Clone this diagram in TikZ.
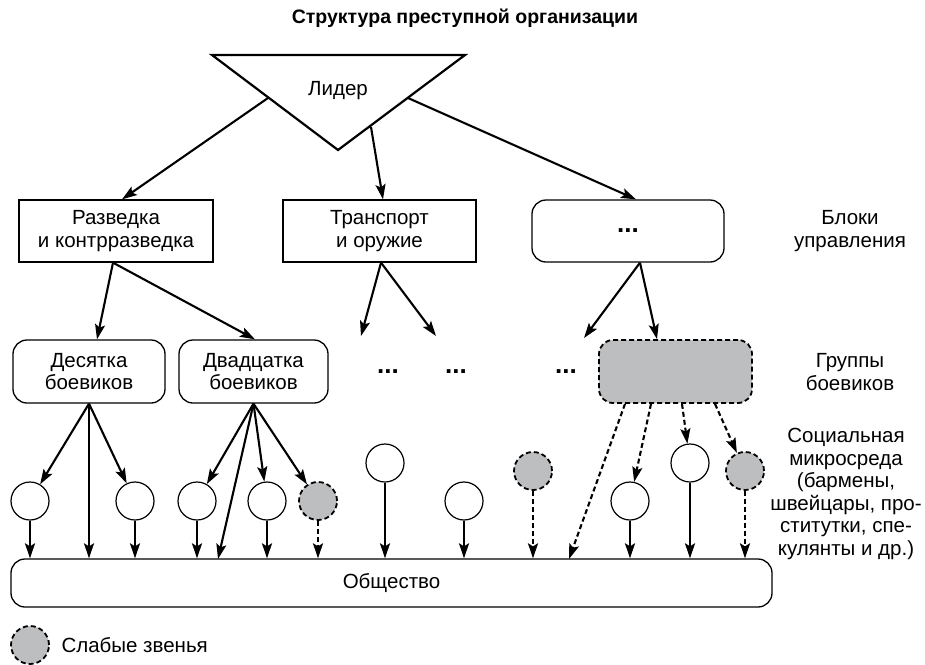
\documentclass[tikz,border=0pt]{standalone}
\usepackage{fontspec}
\setmainfont{Liberation Sans}
\usetikzlibrary{arrows.meta}
\definecolor{weak}{RGB}{188,190,192}
\begin{document}
\begin{tikzpicture}[x=1pt,y=-1pt,
  font=\fontsize{20.5}{22.5}\selectfont,
  arr/.style={line width=2.1pt,-{Stealth[length=15pt,width=10pt,inset=3pt]}},
  darr/.style={arr,dash pattern=on 5pt off 3pt},
  blk/.style={draw,line width=1.3pt,minimum width=#1,minimum height=62pt,align=center,inner sep=0pt},
  rblk/.style={blk=#1,rounded corners=14pt},
  person/.style={circle,draw,line width=1.2pt,minimum size=38pt,inner sep=0pt},
  weakp/.style={person,fill=weak,line width=1.8pt,dash pattern=on 5pt off 3pt},
  lbl/.style={align=center},
  dots/.style={font=\fontsize{26}{26}\selectfont\bfseries}]
\path[use as bounding box] (0,0) rectangle (925,664);

% title
\node[font=\fontsize{19.5}{22}\selectfont\bfseries] (title) at (465,18) {Структура преступной организации};

% leader
\draw[line width=2.2pt] (212,55) -- (465,55) -- (338,150) -- cycle;
\node (leader) at (338,91) {Лидер};
\coordinate (tL) at (268,98);
\coordinate (tM) at (371,127);
\coordinate (tR) at (408,98);

% control blocks
\node[blk=194pt] (b1) at (116,231) {Разведка\\и контрразведка};
\node[blk=193pt] (b2) at (379.5,231) {Транспорт\\и оружие};
\node[rblk=192pt,dots] (b3) at (628,231) {...};
\node[lbl] (lb) at (850,231) {Блоки\\управления};

\draw[arr] (tL) -- ([xshift=6pt]b1.north);
\draw[arr] (tM) -- ([xshift=3.5pt]b2.north);
\draw[arr] (tR) -- ([xshift=8pt]b3.north);

% groups
\node[rblk=152pt,minimum height=63pt] (g1) at (89,371.5) {Десятка\\боевиков};
\node[rblk=149pt,minimum height=63pt] (g2) at (253.5,371.5) {Двадцатка\\боевиков};
\node[dots] (d1) at (388,372) {...};
\node[dots] (d2) at (456,372) {...};
\node[dots] (d3) at (566,372) {...};
\node[rblk=153pt,minimum height=63pt,fill=weak,line width=1.8pt,dash pattern=on 5pt off 3pt] (g3) at (675.5,371.5) {};
\node[lbl] (lg) at (850,372) {Группы\\боевиков};

\coordinate (e1) at (361,336);
\coordinate (e2) at (436,336);
\coordinate (e3) at (584,338);
\draw[arr] ([xshift=-3pt]b1.south) -- ([xshift=8pt]g1.north);
\draw[arr] ([xshift=-3pt]b1.south) -- ([xshift=1.5pt]g2.north);
\draw[arr] ([xshift=1.5pt]b2.south) -- (e1);
\draw[arr] ([xshift=1.5pt]b2.south) -- (e2);
\draw[arr] ([xshift=12pt]b3.south) -- (e3);
\draw[arr] ([xshift=12pt]b3.south) -- ([xshift=-18.5pt]g3.north);

% society
\node[draw,line width=1.3pt,rounded corners=14pt,minimum width=761pt,minimum height=48pt] (soc) at (391.5,583) {Общество};

% social micro-environment
\node[person] (c1) at (30,501) {};
\node[person] (c2) at (135,501) {};
\node[person] (c3) at (197,501) {};
\node[person] (c4) at (267,501) {};
\node[weakp] (c5) at (318,501) {};
\node[person] (c6) at (385,463) {};
\node[person] (c7) at (464,501) {};
\node[weakp] (c8) at (533,471) {};
\node[person] (c9) at (630,501) {};
\node[person] (c10) at (690,463) {};
\node[weakp] (c11) at (745,471) {};

\node[lbl] (lm) at (846,494) {Социальная\\микросреда\\(бармены,\\швейцары, про-\\ститутки, спе-\\кулянты и др.)};

% groups -> people
\draw[arr] (g1.south) -- (c1);
\draw[arr] (g1.south) -- (g1.south |- soc.north);
\draw[arr] (g1.south) -- (c2);
\draw[arr] (g2.south) -- (c3);
\draw[arr] (g2.south) -- (218,559);
\draw[arr] (g2.south) -- (c4);
\draw[arr] (g2.south) -- (c5);
\draw[darr] ([xshift=-50.5pt]g3.south) -- (569,559);
\draw[darr] ([xshift=-24.5pt]g3.south) -- (c9);
\draw[darr] ([xshift=6.5pt]g3.south) -- (c10);
\draw[darr] ([xshift=39.5pt]g3.south) -- (c11);

% people -> society
\foreach \c in {c1,c2,c3,c4,c6,c7,c9,c10}
  \draw[arr] (\c.south) -- (\c.south |- soc.north);
\foreach \c in {c5,c8,c11}
  \draw[darr] (\c.south) -- (\c.south |- soc.north);

% legend
\node[weakp] (lc) at (30,645) {};
\node[anchor=west] (lt) at (58,645) {Слабые звенья};
\end{tikzpicture}
\end{document}
